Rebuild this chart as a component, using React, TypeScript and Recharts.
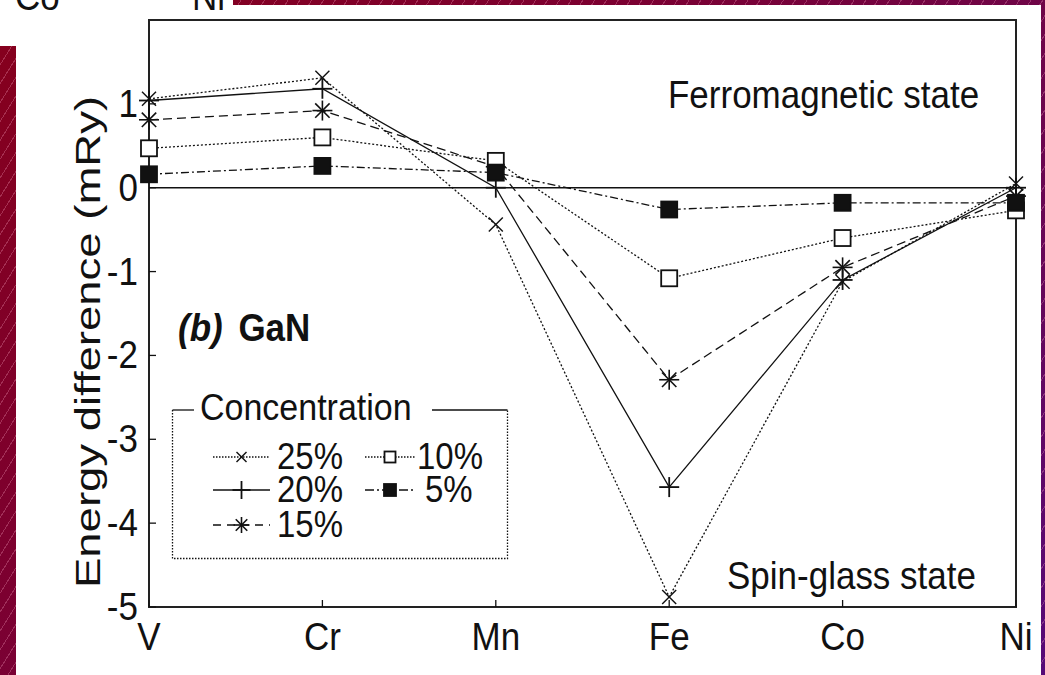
import React from 'react';
import { LineChart, Line, XAxis, YAxis, ReferenceLine, ReferenceArea, Legend } from 'recharts';

// Transition-metal dopants along the x axis
const elements = ['V', 'Cr', 'Mn', 'Fe', 'Co', 'Ni'];

// Energy difference (mRy) per dopant, one array per concentration
const conc25 = [1.06, 1.31, -0.44, -4.88, -1.12, 0.05];
const conc20 = [1.04, 1.18, 0.0, -3.57, -1.1, 0.0];
const conc15 = [0.81, 0.92, 0.25, -2.29, -0.95, -0.1];
const conc10 = [0.47, 0.6, 0.32, -1.08, -0.6, -0.27];
const conc5 = [0.16, 0.26, 0.18, -0.26, -0.18, -0.18];

const yTicks = [-5, -4, -3, -2, -1, 0, 1];
const yDomain = [-5, 2];

type Kind = 'cross' | 'plus' | 'star' | 'open' | 'filled';

const series: { key: string; name: string; kind: Kind; dash?: string; legendDash?: string; col: number; row: number }[] = [
  { key: 'c25', name: '25%', kind: 'cross', dash: '2 2', legendDash: '1.5 1.5', col: 0, row: 0 },
  { key: 'c20', name: '20%', kind: 'plus', col: 0, row: 1 },
  { key: 'c15', name: '15%', kind: 'star', dash: '9 5', legendDash: '8 6', col: 0, row: 2 },
  { key: 'c10', name: '10%', kind: 'open', dash: '2 2', legendDash: '1.5 1.5', col: 1, row: 0 },
  { key: 'c5', name: '5%', kind: 'filled', dash: '8 3 2 3', legendDash: '9 3 2 3', col: 1, row: 1 },
];

const data = elements.map((el, i) => ({
  idx: i,
  el,
  c25: conc25[i],
  c20: conc20[i],
  c15: conc15[i],
  c10: conc10[i],
  c5: conc5[i],
}));

const FONT = '"Liberation Sans", Arial, Helvetica, sans-serif';
const INK = '#111';
// glyphs of this figure are slightly taller than the regular face
const TALL = 1.1;

function Label({ x, y, size, anchor, children, weight }: any) {
  return (
    <g transform={`translate(${x} ${y}) scale(1 ${TALL})`}>
      <text x={0} y={0} textAnchor={anchor || 'start'} fontFamily={FONT} fontSize={size} fontWeight={weight} fill={INK}>
        {children}
      </text>
    </g>
  );
}

function Marker({ kind, cx, cy, s }: { kind: Kind; cx: number; cy: number; s: number }) {
  const w = 1.4;
  if (kind === 'cross') {
    return (
      <g stroke={INK} strokeWidth={w}>
        <line x1={cx - s} y1={cy - s} x2={cx + s} y2={cy + s} />
        <line x1={cx - s} y1={cy + s} x2={cx + s} y2={cy - s} />
      </g>
    );
  }
  if (kind === 'plus') {
    return (
      <g stroke={INK} strokeWidth={w + 0.4}>
        <line x1={cx - s} y1={cy} x2={cx + s} y2={cy} />
        <line x1={cx} y1={cy - s} x2={cx} y2={cy + s} />
      </g>
    );
  }
  if (kind === 'star') {
    const d = s * 0.72;
    return (
      <g stroke={INK} strokeWidth={w + 0.2}>
        <line x1={cx - s} y1={cy} x2={cx + s} y2={cy} />
        <line x1={cx} y1={cy - s} x2={cx} y2={cy + s} />
        <line x1={cx - d} y1={cy - d} x2={cx + d} y2={cy + d} />
        <line x1={cx - d} y1={cy + d} x2={cx + d} y2={cy - d} />
      </g>
    );
  }
  return (
    <rect
      x={cx - s}
      y={cy - s}
      width={2 * s}
      height={2 * s}
      fill={kind === 'filled' ? INK : '#fff'}
      stroke={INK}
      strokeWidth={w + 0.4}
    />
  );
}

const markerSize: Record<Kind, number> = { cross: 7, plus: 10, star: 10, open: 8, filled: 8 };

function BottomTick(props: any) {
  const { x, y, payload } = props;
  return (
    <g>
      <line x1={x} y1={y} x2={x} y2={y - 7} stroke={INK} strokeWidth={1.3} />
      <Label x={x} y={y + 43} size={35} anchor="middle">
        {elements[payload.value]}
      </Label>
    </g>
  );
}

function TopTick(props: any) {
  const { x, y } = props;
  return <line x1={x} y1={y} x2={x} y2={y + 7} stroke={INK} strokeWidth={1.3} />;
}

function LeftTick(props: any) {
  const { x, y, payload } = props;
  return (
    <g>
      <line x1={x} y1={y} x2={x + 7} y2={y} stroke={INK} strokeWidth={1.3} />
      <Label x={x - 11} y={y + 13} size={35} anchor="end">
        {payload.value}
      </Label>
    </g>
  );
}

function RightTick(props: any) {
  const { x, y } = props;
  return <line x1={x} y1={y} x2={x - 7} y2={y} stroke={INK} strokeWidth={1.3} />;
}

function LegendBox() {
  const colX = [41, 193];
  const colW = [57, 50];
  const textX = [105, 245];
  const rowY = [72, 105, 140];
  const legSize: Record<Kind, number> = { cross: 5, plus: 9, star: 8, open: 5.5, filled: 6 };
  return (
    <svg width={340} height={185} style={{ display: 'block', overflow: 'visible' }}>
      {/* dotted frame, top edge carries the title */}
      <path d="M0.5 25 V173.5 H335.5 V25" fill="none" stroke={INK} strokeWidth={1.3} strokeDasharray="1.5 1.5" />
      <line x1={0.5} y1={25} x2={22} y2={25} stroke={INK} strokeWidth={1.3} />
      <line x1={260} y1={25} x2={335.5} y2={25} stroke={INK} strokeWidth={1.3} />
      <Label x={28} y={35} size={34}>
        Concentration
      </Label>
      {series.map((s) => {
        const x0 = colX[s.col];
        const w = colW[s.col];
        const cy = rowY[s.row];
        const tx = s.name === '5%' ? 253 : textX[s.col];
        return (
          <g key={s.key}>
            <line x1={x0} y1={cy} x2={x0 + w} y2={cy} stroke={INK} strokeWidth={1.3} strokeDasharray={s.legendDash} />
            <Marker kind={s.kind} cx={x0 + w / 2} cy={cy} s={legSize[s.kind]} />
            <Label x={tx} y={cy + 12} size={33}>
              {s.name}
            </Label>
          </g>
        );
      })}
    </svg>
  );
}

const stripeBg =
  'repeating-linear-gradient(-58deg, rgba(0,0,0,0) 0px, rgba(0,0,0,0) 9px, rgba(255,170,200,0.28) 9px, rgba(255,170,200,0.28) 10px), ' +
  'linear-gradient(135deg, #86001c 0%, #7c0030 35%, #6a0650 70%, #560a78 100%)';

export default function App() {
  return (
    <div
      style={{
        position: 'absolute',
        left: 0,
        top: 0,
        width: 1045,
        height: 675,
        overflow: 'hidden',
        background: stripeBg,
      }}
    >
      {/* white panels */}
      <div style={{ position: 'absolute', left: 16, top: 5, width: 1025, height: 670, background: '#fff' }} />
      <div style={{ position: 'absolute', left: 0, top: 0, width: 233, height: 46, background: '#fff' }} />

      <div style={{ position: 'absolute', left: 0, top: 0 }}>
        <LineChart width={1045} height={675} data={data} margin={{ top: 20, right: 29, bottom: 28, left: 89 }}>
          <XAxis
            xAxisId="b"
            dataKey="idx"
            type="number"
            domain={[0, 5]}
            ticks={[0, 1, 2, 3, 4, 5]}
            interval={0}
            height={40}
            axisLine={false}
            tickLine={false}
            tickSize={0}
            tickMargin={0}
            tick={BottomTick}
          />
          <XAxis
            xAxisId="t"
            orientation="top"
            dataKey="idx"
            type="number"
            domain={[0, 5]}
            ticks={[1, 2, 3, 4]}
            interval={0}
            height={0}
            axisLine={false}
            tickLine={false}
            tickSize={0}
            tickMargin={0}
            tick={TopTick}
          />
          <YAxis
            yAxisId="l"
            type="number"
            domain={yDomain}
            ticks={yTicks}
            interval={0}
            width={60}
            axisLine={false}
            tickLine={false}
            tickSize={0}
            tickMargin={0}
            tick={LeftTick}
          />
          <YAxis
            yAxisId="r"
            orientation="right"
            type="number"
            domain={yDomain}
            ticks={[-4, -3, -2, -1, 0, 1]}
            interval={0}
            width={0}
            axisLine={false}
            tickLine={false}
            tickSize={0}
            tickMargin={0}
            tick={RightTick}
          />
          <ReferenceArea
            xAxisId="b"
            yAxisId="l"
            x1={0}
            x2={5}
            y1={yDomain[0]}
            y2={yDomain[1]}
            fill="none"
            fillOpacity={0}
            stroke="#222"
            strokeWidth={2}
          />
          <ReferenceLine xAxisId="b" yAxisId="l" y={0} stroke={INK} strokeWidth={1.6} />
          {series.map((s) => (
            <Line
              key={s.key}
              xAxisId="b"
              yAxisId="l"
              dataKey={s.key}
              name={s.name}
              type="linear"
              stroke={INK}
              strokeWidth={1.3}
              strokeDasharray={s.dash}
              isAnimationActive={false}
              dot={(p: any) => (
                <Marker key={`${s.key}-${p.index}`} kind={s.kind} cx={p.cx} cy={p.cy} s={markerSize[s.kind]} />
              )}
              activeDot={false}
            />
          ))}
          <Legend
            content={LegendBox}
            layout="horizontal"
            verticalAlign="middle"
            align="center"
            wrapperStyle={{ left: 172, top: 385, width: 340, height: 185 }}
          />
        </LineChart>
      </div>

      {/* annotations */}
      <svg width={1045} height={675} style={{ position: 'absolute', left: 0, top: 0, pointerEvents: 'none' }}>
        <Label x={15} y={10} size={35}>
          Co
        </Label>
        <Label x={192} y={10} size={35}>
          Ni
        </Label>
        <Label x={668} y={108} size={35}>
          Ferromagnetic state
        </Label>
        <Label x={727} y={589} size={35}>
          Spin-glass state
        </Label>
        <Label x={178} y={341} size={35} weight="bold">
          <tspan fontStyle="italic">(b)</tspan>
          <tspan dx={6}> GaN</tspan>
        </Label>
        <g transform="translate(100 342) rotate(-90) scale(1.3 1)">
          <text x={0} y={0} textAnchor="middle" fontFamily={FONT} fontSize={35} fill={INK}>
            Energy difference (mRy)
          </text>
        </g>
      </svg>
    </div>
  );
}
